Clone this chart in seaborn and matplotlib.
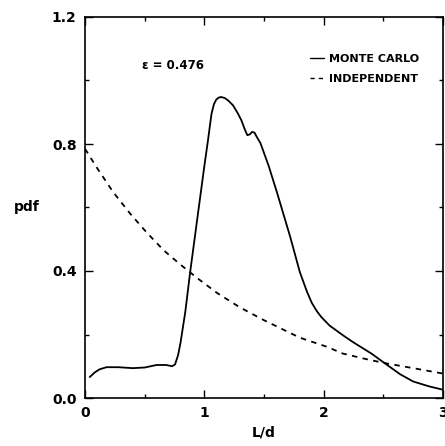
import numpy as np
import pandas as pd
import matplotlib
matplotlib.use("Agg")
import matplotlib.pyplot as plt
import seaborn as sns
from matplotlib.ticker import FixedLocator, MultipleLocator

sns.set_style("ticks")
plt.rcParams['font.family'] = ['DejaVu Sans']
plt.rcParams['font.weight'] = 'bold'
plt.rcParams['text.color'] = 'black'
plt.rcParams['axes.labelcolor'] = 'black'
plt.rcParams['xtick.color'] = 'black'
plt.rcParams['ytick.color'] = 'black'

# Monte Carlo curve
mc_x = [0.04, 0.08, 0.12, 0.18, 0.28, 0.40, 0.50, 0.60, 0.68, 0.73, 0.755, 0.78, 0.80,
        0.84, 0.88, 0.95, 1.00, 1.03, 1.06, 1.08, 1.10, 1.12, 1.14, 1.17, 1.20, 1.24,
        1.28, 1.31, 1.34, 1.36, 1.38, 1.40, 1.42, 1.44, 1.47, 1.54, 1.61, 1.72, 1.80,
        1.86, 1.90, 1.94, 1.98, 2.05, 2.16, 2.25, 2.31, 2.40, 2.51, 2.64, 2.75, 2.88, 3.0]
mc_y = [0.066, 0.080, 0.090, 0.097, 0.097, 0.094, 0.096, 0.104, 0.104, 0.100, 0.106, 0.135, 0.173,
        0.27, 0.393, 0.59, 0.73, 0.81, 0.895, 0.925, 0.940, 0.946, 0.948, 0.945, 0.937, 0.922,
        0.897, 0.875, 0.845, 0.828, 0.830, 0.838, 0.836, 0.822, 0.803, 0.73, 0.646, 0.507, 0.397,
        0.335, 0.30, 0.275, 0.255, 0.228, 0.198, 0.175, 0.161, 0.140, 0.110, 0.075, 0.052, 0.037, 0.026]

# Independent curve
ind_x = [0.0, 0.1, 0.235, 0.38, 0.52, 0.66, 0.80, 0.95, 1.11, 1.30, 1.50, 1.80,
         2.03, 2.16, 2.35, 2.51, 2.75, 3.0]
ind_y = [0.785, 0.725, 0.649, 0.58, 0.52, 0.465, 0.42, 0.375, 0.33, 0.285, 0.245, 0.19,
         0.161, 0.14, 0.123, 0.110, 0.094, 0.077]

x_ticks = [0, 1, 2, 3]
x_ticklabels = ["0", "1", "2", "3"]
y_ticks = [0.0, 0.4, 0.8, 1.2]
y_ticklabels = ["0.0", "0.4", "0.8", "1.2"]

df = pd.concat([
    pd.DataFrame({"L/d": mc_x, "pdf": mc_y, "series": "MONTE CARLO"}),
    pd.DataFrame({"L/d": ind_x, "pdf": ind_y, "series": "INDEPENDENT"}),
])

fig = plt.figure(figsize=(4.45, 4.46), dpi=100)
ax = fig.add_axes([85/445, (446-398)/446, (443-85)/445, (398-17)/446])

sns.lineplot(data=df, x="L/d", y="pdf", style="series", color="black",
             dashes={"MONTE CARLO": "", "INDEPENDENT": (3, 3)},
             linewidth=1.3, ax=ax, sort=False, estimator=None)

ax.set_xlim(0, 3)
ax.set_ylim(0, 1.2)
ax.xaxis.set_major_locator(FixedLocator(x_ticks))
ax.set_xticklabels(x_ticklabels)
ax.yaxis.set_major_locator(FixedLocator(y_ticks))
ax.set_yticklabels(y_ticklabels)
ax.xaxis.set_minor_locator(MultipleLocator(0.5))
ax.yaxis.set_minor_locator(MultipleLocator(0.2))
ax.tick_params(which="both", direction="in", top=True, right=True, width=1.0, color="black")
ax.tick_params(which="major", length=6, labelsize=10, pad=6)
ax.tick_params(which="minor", length=3)
for lab in ax.get_xticklabels() + ax.get_yticklabels():
    lab.set_fontweight("bold")
for s in ax.spines.values():
    s.set_linewidth(1.2)
    s.set_color("black")

ax.set_xlabel("L/d", fontsize=10, fontweight="bold", labelpad=4)
ax.set_ylabel("pdf", fontsize=10, fontweight="bold", rotation=0, labelpad=18, va="center")

ax.text(0.16, 0.874, "ε = 0.476", transform=ax.transAxes, fontsize=8.5,
        fontweight="bold", va="center", ha="left")

leg = ax.legend(loc="upper left", bbox_to_anchor=(0.6, 0.93), frameon=False,
                handlelength=1.3, handletextpad=0.4, labelspacing=0.9,
                prop={"weight": "bold", "size": 8})
for line in leg.get_lines():
    line.set_linewidth(1.0)

fig.savefig("out.png", dpi=100)
